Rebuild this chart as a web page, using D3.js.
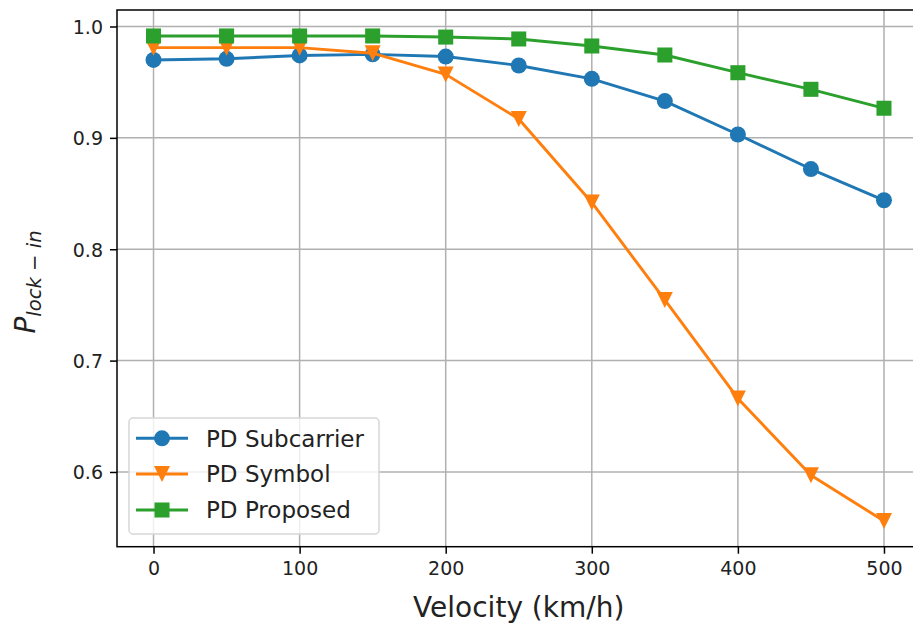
<!DOCTYPE html>
<html>
<head>
<meta charset="utf-8">
<script src="https://cdn.jsdelivr.net/npm/d3@7"></script>
<style>
  html, body { margin: 0; padding: 0; background: #fff; }
  svg { display: block; font-family: "DejaVu Sans", sans-serif; }
</style>
</head>
<body>
<svg id="chart" width="913" height="630"></svg>
<script>
// ---- data ----
const velocities = [0, 50, 100, 150, 200, 250, 300, 350, 400, 450, 500];
const pdSubcarrier = [0.970, 0.971, 0.974, 0.975, 0.973, 0.965, 0.953, 0.933, 0.903, 0.872, 0.844];
const pdSymbol     = [0.981, 0.981, 0.981, 0.976, 0.957, 0.917, 0.842, 0.7545, 0.666, 0.597, 0.556];
const pdProposed   = [0.9915, 0.9915, 0.9915, 0.9915, 0.9905, 0.9888, 0.9825, 0.9744, 0.9585, 0.9436, 0.9266];
const xTicks = [0, 100, 200, 300, 400, 500];
const yTicks = [0.6, 0.7, 0.8, 0.9, 1.0];
const seriesNames = ["PD Subcarrier", "PD Symbol", "PD Proposed"];
const seriesColors = ["#1f77b4", "#ff7f0e", "#2ca02c"];
const seriesMarkers = ["circle", "triangleDown", "square"];

// ---- layout ----
const svg = d3.select("#chart");
const plotLeft = 117, plotTop = 10, plotRight = 920.5, plotBottom = 546.7;
const x = d3.scaleLinear().domain([-25, 525]).range([plotLeft, plotRight]);
const y = d3.scaleLinear().domain([0.5329, 1.01481]).range([plotBottom, plotTop]);

const ms = 16; // marker size in px
function markerPath(type, cx, cy, s) {
  const h = s / 2;
  if (type === "circle") {
    return `M${cx - h},${cy}a${h},${h} 0 1,0 ${s},0a${h},${h} 0 1,0 ${-s},0Z`;
  } else if (type === "square") {
    const q = h * 0.94;
    return `M${cx - q},${cy - q}H${cx + q}V${cy + q}H${cx - q}Z`;
  } else {
    return `M${cx},${cy + h}L${cx - h},${cy - h}L${cx + h},${cy - h}Z`;
  }
}

// grid
const grid = svg.append("g");
grid.selectAll(".gx").data(xTicks).enter().append("line")
  .attr("x1", d => x(d)).attr("x2", d => x(d))
  .attr("y1", plotTop).attr("y2", plotBottom)
  .attr("stroke", "#b0b0b0").attr("stroke-width", 1.5);
grid.selectAll(".gy").data(yTicks).enter().append("line")
  .attr("x1", plotLeft).attr("x2", plotRight)
  .attr("y1", d => y(d)).attr("y2", d => y(d))
  .attr("stroke", "#b0b0b0").attr("stroke-width", 1.5);

// axes
const xAxis = d3.axisBottom(x).tickValues(xTicks).tickSize(7).tickPadding(7).tickFormat(d3.format("d"));
const yAxis = d3.axisLeft(y).tickValues(yTicks).tickSize(7).tickPadding(7).tickFormat(d3.format(".1f"));
const gx = svg.append("g").attr("transform", `translate(0,${plotBottom})`).call(xAxis);
const gy = svg.append("g").attr("transform", `translate(${plotLeft},0)`).call(yAxis);
[gx, gy].forEach(g => {
  g.select(".domain").remove();
  g.selectAll(".tick line").attr("stroke", "#000").attr("stroke-width", 1.5);
  g.selectAll(".tick text").attr("fill", "#222").style("font-size", "19px")
    .style("font-family", "'DejaVu Sans', sans-serif");
});
gx.selectAll(".tick text").attr("dy", "0.75em");
gy.selectAll(".tick text").attr("dy", "0.36em");

// spines
svg.append("rect").attr("x", plotLeft).attr("y", plotTop)
  .attr("width", plotRight - plotLeft).attr("height", plotBottom - plotTop)
  .attr("fill", "none").attr("stroke", "#000").attr("stroke-width", 1.5);

// series
const allSeries = [pdSubcarrier, pdSymbol, pdProposed];
const line = d3.line().x((d, i) => x(velocities[i])).y(d => y(d));
allSeries.forEach((vals, si) => {
  const g = svg.append("g");
  g.append("path").datum(vals).attr("d", line)
    .attr("fill", "none").attr("stroke", seriesColors[si]).attr("stroke-width", 2.9)
    .attr("stroke-linejoin", "round").attr("stroke-linecap", "square");
  g.selectAll(".m").data(vals).enter().append("path")
    .attr("d", (d, i) => markerPath(seriesMarkers[si], x(velocities[i]), y(d), ms))
    .attr("fill", seriesColors[si]);
});

// legend
const lg = svg.append("g");
lg.append("rect").attr("x", 129).attr("y", 418).attr("width", 250).attr("height", 116)
  .attr("rx", 4).attr("fill", "#fff").attr("fill-opacity", 0.8)
  .attr("stroke", "#d6d6d6").attr("stroke-width", 1.5);
const rowY = [438.3, 474, 510];
seriesNames.forEach((name, si) => {
  const cy = rowY[si];
  lg.append("line").attr("x1", 136).attr("x2", 188).attr("y1", cy).attr("y2", cy)
    .attr("stroke", seriesColors[si]).attr("stroke-width", 2.9);
  lg.append("path").attr("d", markerPath(seriesMarkers[si], 162, cy, ms)).attr("fill", seriesColors[si]);
  lg.append("text").attr("x", 206).attr("y", cy + 8.2).text(name)
    .attr("fill", "#222").style("font-size", "23px");
});

// axis labels
svg.append("text").attr("x", (plotLeft + plotRight) / 2).attr("y", 616.5)
  .attr("text-anchor", "middle").attr("fill", "#222").style("font-size", "28px")
  .text("Velocity (km/h)");

const yl = svg.append("text")
  .attr("transform", "translate(35,282) rotate(-90)")
  .attr("text-anchor", "middle").attr("fill", "#222");
yl.append("tspan").style("font-size", "28px").style("font-style", "italic").text("P");
yl.append("tspan").style("font-size", "19.6px").style("font-style", "italic").attr("dy", 5.5).text("lock");
yl.append("tspan").style("font-size", "19.6px").text(" − ");
yl.append("tspan").style("font-size", "19.6px").style("font-style", "italic").text("in");
</script>
</body>
</html>
